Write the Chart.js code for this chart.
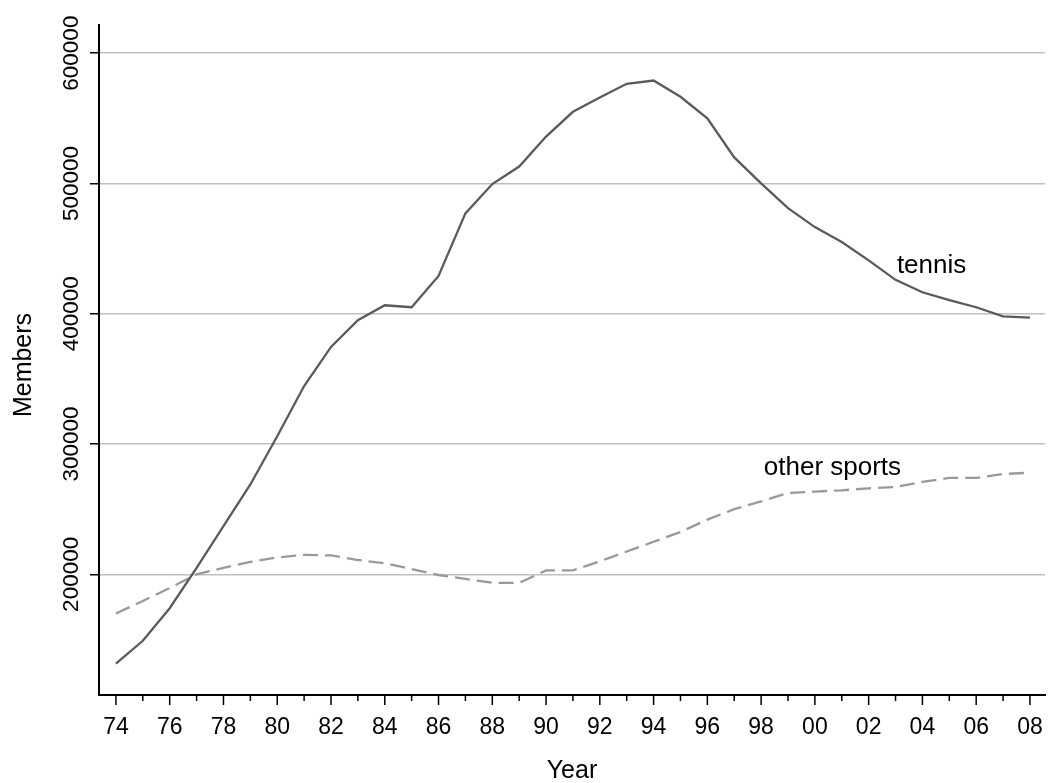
<!DOCTYPE html>
<html>
<head>
<meta charset="utf-8">
<script src="https://cdn.jsdelivr.net/npm/chart.js@4.4.1/dist/chart.umd.min.js"></script>
<style>
  html, body { margin: 0; padding: 0; background: #fff; }
  #wrap { width: 1050px; height: 783px; }
</style>
</head>
<body>
<div id="wrap"><canvas id="lineChart"></canvas></div>
<script>
// years 1974 - 2008
var years = [1974, 1975, 1976, 1977, 1978, 1979, 1980, 1981, 1982, 1983, 1984, 1985,
  1986, 1987, 1988, 1989, 1990, 1991, 1992, 1993, 1994, 1995, 1996, 1997, 1998,
  1999, 2000, 2001, 2002, 2003, 2004, 2005, 2006, 2007, 2008];

var tennis = [131500, 149000, 174000, 205000, 237000, 269000, 306000, 344500, 374500,
  395000, 406500, 405000, 429000, 477000, 499500, 513000, 536000, 555000, 566000,
  576500, 579000, 566500, 550000, 520000, 500000, 481000, 466500, 455000, 441000,
  426000, 416500, 410500, 405000, 398000, 397000];

var otherSports = [170000, 179500, 189500, 200000, 205000, 209500, 213000, 215000, 214500,
  211000, 208500, 204000, 199500, 196500, 193500, 193500, 203000, 203000, 210000,
  217500, 225000, 232500, 242000, 250000, 256000, 262500, 263500, 264500, 266000,
  267000, 271000, 274000, 274000, 277000, 278000];

var yTicks = [200000, 300000, 400000, 500000, 600000];
var xLabelYears = [1974, 1976, 1978, 1980, 1982, 1984, 1986, 1988, 1990, 1992, 1994,
  1996, 1998, 2000, 2002, 2004, 2006, 2008];

// line labels, placed in data coordinates
var lineLabels = [
  { text: "tennis", x: 2003.05, y: 431000 },
  { text: "other sports", x: 1998.1, y: 276000 }
];

var FONT = "'Liberation Sans', Arial, Helvetica, sans-serif";

function pts(arr) {
  return years.map(function (yr, i) { return { x: yr, y: arr[i] }; });
}

var extras = {
  id: "extras",
  afterDraw: function (chart) {
    var c = chart.ctx;
    var xs = chart.scales.x, ys = chart.scales.y;
    var area = chart.chartArea;
    c.save();

    // x tick marks, long on labelled years
    c.strokeStyle = "#000";
    c.lineWidth = 1.5;
    years.forEach(function (yr) {
      var px = xs.getPixelForValue(yr);
      var len = xLabelYears.indexOf(yr) >= 0 ? 10 : 6;
      c.beginPath();
      c.moveTo(px, area.bottom);
      c.lineTo(px, area.bottom + len);
      c.stroke();
    });

    // x tick labels
    c.fillStyle = "#000";
    c.font = "23px " + FONT;
    c.textAlign = "center";
    c.textBaseline = "alphabetic";
    xLabelYears.forEach(function (yr) {
      var s = String(yr).slice(2);
      c.fillText(s, xs.getPixelForValue(yr), 734);
    });

    // y tick labels, rotated
    c.font = "22.5px " + FONT;
    yTicks.forEach(function (v) {
      c.save();
      c.translate(78, ys.getPixelForValue(v));
      c.rotate(-Math.PI / 2);
      c.fillText(String(v), 0, 0);
      c.restore();
    });

    // axis titles
    c.font = "25px " + FONT;
    c.fillText("Year", (area.left + area.right) / 2, 778);
    c.save();
    c.translate(31, (area.top + area.bottom) / 2 + 5);
    c.rotate(-Math.PI / 2);
    c.fillText("Members", 0, 0);
    c.restore();

    // series labels
    c.font = "26px " + FONT;
    c.textAlign = "left";
    lineLabels.forEach(function (l) {
      c.fillText(l.text, xs.getPixelForValue(l.x), ys.getPixelForValue(l.y));
    });

    c.restore();
  }
};

document.addEventListener("DOMContentLoaded", function () {
  var ctx = document.getElementById("lineChart").getContext("2d");
  var lineChart = new Chart(ctx, {
    type: "line",
    data: {
      datasets: [
        {
          label: "tennis",
          data: pts(tennis),
          borderColor: "#5a5a5a",
          borderWidth: 2.3,
          pointRadius: 0,
          tension: 0
        },
        {
          label: "other sports",
          data: pts(otherSports),
          borderColor: "#999999",
          borderWidth: 2.3,
          borderDash: [15, 7],
          pointRadius: 0,
          tension: 0
        }
      ]
    },
    options: {
      responsive: true,
      maintainAspectRatio: false,
      animation: false,
      layout: { padding: { top: 25, right: 5, left: 0, bottom: 0 } },
      plugins: {
        legend: { display: false },
        tooltip: { enabled: false }
      },
      scales: {
        x: {
          type: "linear",
          min: 1973.37,
          max: 2008.56,
          grid: { drawOnChartArea: false, drawTicks: false },
          border: { display: true, color: "#000", width: 2 },
          ticks: { display: false },
          afterFit: function (s) { s.height = 88; }
        },
        y: {
          min: 107400,
          max: 621600,
          afterBuildTicks: function (s) {
            s.ticks = yTicks.map(function (v) { return { value: v }; });
          },
          grid: {
            color: "#c0c0c0",
            lineWidth: 1.5,
            drawTicks: true,
            tickLength: 9,
            tickColor: "#000",
            tickWidth: 1.5
          },
          border: { display: true, color: "#000", width: 2 },
          ticks: { display: false },
          afterFit: function (s) { s.width = 99; }
        }
      }
    },
    plugins: [extras]
  });
});
</script>
</body>
</html>
